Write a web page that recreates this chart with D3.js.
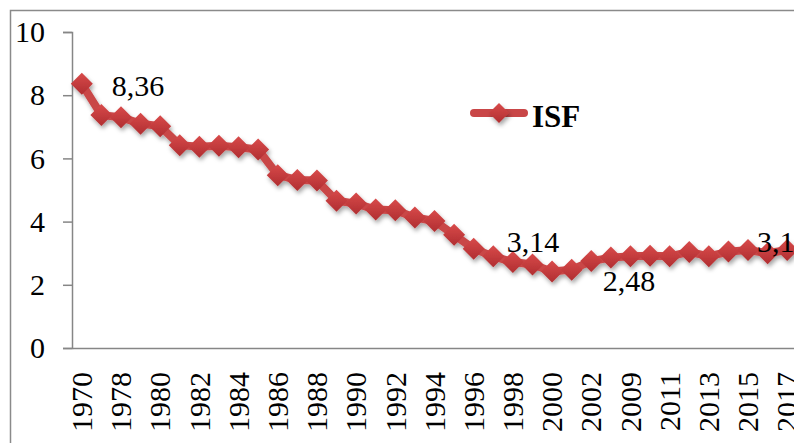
<!DOCTYPE html>
<html>
<head>
<meta charset="utf-8">
<script src="https://cdn.jsdelivr.net/npm/d3@7"></script>
<style>
    body { margin: 0; background: #fff; }
    svg { display: block; font-family: "Liberation Serif", "Times New Roman", serif; }
</style>
</head>
<body>
<div id="chart"></div>
<script>
// categories (hidden ones between shown labels: 1977, 2008, ...)
const years = ['1970', '1977', '1978', '1979', '1980', '1981', '1982', '1983', '1984', '1985',
    '1986', '1987', '1988', '1989', '1990', '1991', '1992', '1993', '1994', '1995',
    '1996', '1997', '1998', '1999', '2000', '2001', '2002', '2008', '2009', '2010',
    '2011', '2012', '2013', '2014', '2015', '2016', '2017'];

const isf = [8.36, 7.37, 7.3, 7.1, 7.02, 6.42, 6.37, 6.4, 6.35, 6.28,
    5.47, 5.32, 5.3, 4.66, 4.57, 4.38, 4.36, 4.13, 4.02, 3.58,
    3.14, 2.9, 2.72, 2.64, 2.42, 2.48, 2.75, 2.86, 2.9, 2.92,
    2.9, 3.04, 2.9, 3.05, 3.1, 3.0, 3.1];

const yTicks = [0, 2, 4, 6, 8, 10];
const labelled = [0, 20, 25, 34]; // points that carry a data label
const seriesName = 'ISF';

const width = 794, height = 443;
const margin = { left: 72, top: 32 };
const plotW = 725, plotH = 316;

const fmt = d3.formatLocale({ decimal: ',', thousands: ' ', grouping: [3], currency: ['', ''] }).format('');

const svg = d3.select('#chart').append('svg')
    .attr('width', width)
    .attr('height', height);

const defs = svg.append('defs');
const grad = defs.append('linearGradient')
    .attr('id', 'mk')
    .attr('x1', 0).attr('y1', 0).attr('x2', 0).attr('y2', 1);
grad.append('stop').attr('offset', '0%').attr('stop-color', '#d84a4a');
grad.append('stop').attr('offset', '100%').attr('stop-color', '#b02e31');

defs.append('filter')
    .attr('id', 'shadow')
    .attr('x', '-30%').attr('y', '-30%').attr('width', '160%').attr('height', '160%')
    .append('feDropShadow')
    .attr('dx', 1.5).attr('dy', 3)
    .attr('stdDeviation', 2)
    .attr('flood-color', '#000')
    .attr('flood-opacity', 0.35);

// outer chart frame (runs off the right and bottom edges)
svg.append('rect')
    .attr('x', 10.5).attr('y', 10.5)
    .attr('width', 820).attr('height', 480)
    .attr('fill', 'none')
    .attr('stroke', '#8a8a8a')
    .attr('stroke-width', 1.5);

const x = d3.scaleBand()
    .domain(years)
    .range([margin.left, margin.left + plotW]);

const y = d3.scaleLinear()
    .domain([0, 10])
    .range([margin.top + plotH, margin.top]);

const cx = d => x(d) + x.bandwidth() / 2;

// y axis
const yAxis = svg.append('g')
    .attr('transform', `translate(${margin.left},0)`)
    .call(d3.axisLeft(y).tickValues(yTicks).tickSize(9).tickPadding(18).tickFormat(d3.format('d')));
yAxis.select('.domain').attr('stroke', '#868686').attr('stroke-width', 1.5);
yAxis.selectAll('.tick line').attr('stroke', '#868686').attr('stroke-width', 1.5);
yAxis.selectAll('.tick text')
    .attr('fill', '#000')
    .style('font-size', '30px')
    .style('font-family', '"Liberation Serif", "Times New Roman", serif');

// x axis, every other category labelled
const xAxis = svg.append('g')
    .attr('transform', `translate(0,${margin.top + plotH})`)
    .call(d3.axisBottom(x).tickValues(years.filter((d, i) => i % 2 === 0)).tickSize(0).tickSizeOuter(0));
xAxis.select('.domain').attr('stroke', '#868686').attr('stroke-width', 1.5);
xAxis.selectAll('.tick text')
    .attr('fill', '#000')
    .attr('transform', 'rotate(-90)')
    .attr('text-anchor', 'end')
    .attr('x', -24)
    .attr('y', 0)
    .attr('dy', '0.34em')
    .style('font-size', '30px')
    .style('font-family', '"Liberation Serif", "Times New Roman", serif');

const data = years.map((d, i) => ({ year: d, value: isf[i], i }));

const line = d3.line()
    .x(d => cx(d.year))
    .y(d => y(d.value));

const diamond = r => `M0,${-r}L${r},0L0,${r}L${-r},0Z`;

const series = svg.append('g').attr('filter', 'url(#shadow)');

series.append('path')
    .datum(data)
    .attr('d', line)
    .attr('fill', 'none')
    .attr('stroke', '#c94647')
    .attr('stroke-width', 8)
    .attr('stroke-linejoin', 'round');

series.selectAll('.marker')
    .data(data)
    .enter().append('path')
    .attr('class', 'marker')
    .attr('d', diamond(11))
    .attr('transform', d => `translate(${cx(d.year)},${y(d.value)})`)
    .attr('fill', 'url(#mk)');

// data labels, offsets as placed in the original
const labelOffsets = { 0: [30, 12], 20: [33, 3], 25: [31, 21], 34: [9, 2] };

svg.selectAll('.data-label')
    .data(data.filter(d => labelled.includes(d.i)))
    .enter().append('text')
    .attr('class', 'data-label')
    .attr('x', d => cx(d.year) + labelOffsets[d.i][0])
    .attr('y', d => y(d.value) + labelOffsets[d.i][1])
    .style('font-size', '30px')
    .style('fill', '#000')
    .text(d => fmt(d.value));

// legend
const legend = svg.append('g').attr('transform', 'translate(470,113)');
legend.append('line')
    .attr('x1', 4).attr('x2', 54)
    .attr('stroke', '#c94647')
    .attr('stroke-width', 8)
    .attr('stroke-linecap', 'round');
legend.append('path')
    .attr('d', diamond(10))
    .attr('transform', 'translate(29,0)')
    .attr('fill', 'url(#mk)')
    .attr('filter', 'url(#shadow)');
legend.append('text')
    .attr('x', 62)
    .attr('y', 14)
    .style('font-size', '31px')
    .style('font-weight', 'bold')
    .style('fill', '#000')
    .text(seriesName);
</script>
</body>
</html>
